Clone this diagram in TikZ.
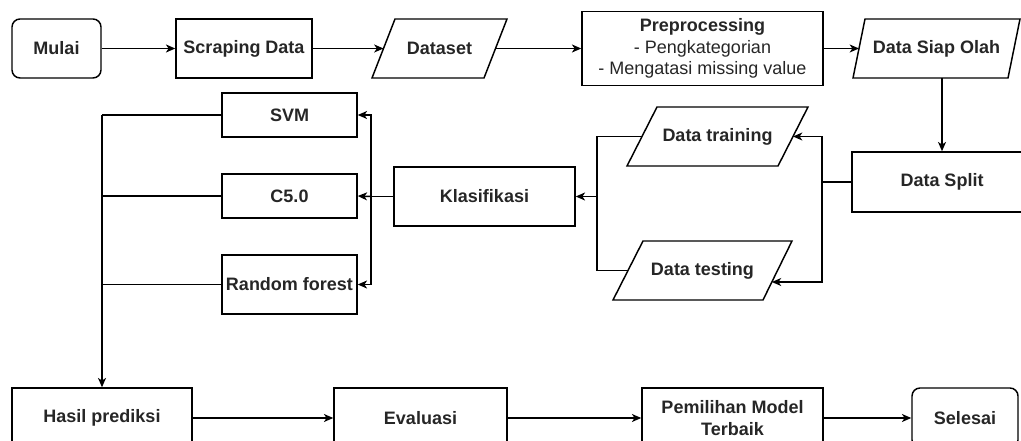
\documentclass[tikz,border=0pt]{standalone}
\usepackage{fontspec}
\setmainfont{Liberation Sans}
\usetikzlibrary{arrows.meta,calc}
\begin{document}
\begin{tikzpicture}[x=0.75pt,y=-0.75pt,
  line width=1.1pt,
  lbl/.style={font=\fontsize{13.5pt}{16.2pt}\selectfont\bfseries, text=black!85, align=center, inner sep=0pt},
  box/.style={draw, rectangle, lbl, minimum width=#1},
  rbox/.style={draw, rectangle, rounded corners=6pt, lbl, minimum width=#1},
  arr/.style={-{Stealth[length=7pt,width=6pt,inset=2pt]}},
  shape line/.style={draw, line join=miter}
]
\useasboundingbox (0,0) rectangle (1021,441);
\clip (0,0) rectangle (1021,441);

% top row
\node[rbox=66.75pt, minimum height=44.25pt] (mulai) at (56.5,48.5) {Mulai};
\node[box=102pt, minimum height=44.25pt] (scrap) at (244,48.5) {Scraping Data};
\coordinate (ds-tl) at (395,19); \coordinate (ds-tr) at (507,19);
\coordinate (ds-br) at (484,78); \coordinate (ds-bl) at (372,78);
\draw[shape line] (ds-tl) -- (ds-tr) -- (ds-br) -- (ds-bl) -- cycle;
\node[lbl] (dataset) at (439.5,48.5) {Dataset};
\coordinate (ds-l) at ($(ds-tl)!0.5!(ds-bl)$);
\coordinate (ds-r) at ($(ds-tr)!0.5!(ds-br)$);
\node[box=180.75pt, minimum height=55.5pt] (prep) at (702.5,48.5) {Preprocessing\\\mdseries - Pengkategorian\\\mdseries - Mengatasi missing value};
\coordinate (si-tl) at (865,19); \coordinate (si-tr) at (1020,19);
\coordinate (si-br) at (1008,78); \coordinate (si-bl) at (853,78);
\draw[shape line] (si-tl) -- (si-tr) -- (si-br) -- (si-bl) -- cycle;
\node[lbl] (siap) at (936.5,48.5) {Data Siap Olah};
\coordinate (si-l) at ($(si-tl)!0.5!(si-bl)$);

% middle
\node[box=135pt, minimum height=45pt] (split) at (942,182) {Data Split};
\coordinate (si-b) at (942,78);

\coordinate (tr-tl) at (657,107); \coordinate (tr-tr) at (808,107);
\coordinate (tr-br) at (778,166); \coordinate (tr-bl) at (627,166);
\draw[shape line] (tr-tl) -- (tr-tr) -- (tr-br) -- (tr-bl) -- cycle;
\node[lbl] (dtrain) at (717.5,136.5) {Data training};
\coordinate (tr-l) at ($(tr-tl)!0.5!(tr-bl)$);
\coordinate (tr-r) at ($(tr-tr)!0.5!(tr-br)$);

\coordinate (te-tl) at (643,241); \coordinate (te-tr) at (792,241);
\coordinate (te-br) at (763,300); \coordinate (te-bl) at (613,300);
\draw[shape line] (te-tl) -- (te-tr) -- (te-br) -- (te-bl) -- cycle;
\node[lbl] (dtest) at (702.5,270.5) {Data testing};
\coordinate (te-l) at ($(te-tl)!0.5!(te-bl)$);
\coordinate (te-r) at ($(te-tr)!0.695!(te-br)$);

\node[box=135.75pt, minimum height=44.25pt] (klas) at (484.5,196.5) {Klasifikasi};
\node[box=101.25pt, minimum height=33pt] (svm) at (289.5,115) {SVM};
\node[box=101.25pt, minimum height=33pt] (c50) at (289.5,196) {C5.0};
\node[box=101.25pt, minimum height=44.25pt] (rf) at (289.5,284.5) {Random forest};

% bottom row
\node[box=135pt, minimum height=45pt] (hasil) at (102,418) {Hasil prediksi};
\node[box=129.75pt, minimum height=45pt] (eval) at (420.5,418) {Evaluasi};
\node[box=135.75pt, minimum height=45pt] (pemil) at (732.5,418) {Pemilihan Model\\Terbaik};
\node[rbox=79.5pt, minimum height=45pt] (selesai) at (965,418) {Selesai};

% bus coordinates
\coordinate (busR) at (822,182);
\coordinate (busM) at (597,196.5);
\coordinate (busK) at (371,196.5);
\coordinate (busL) at (102,115);

% connectors
\draw[arr] (mulai.east) -- (scrap.west);
\draw[arr] (scrap.east) -- (ds-l);
\draw[arr] (ds-r) -- (prep.west |- ds-r);
\draw[arr] (prep.east |- si-l) -- (si-l);
\draw[arr] (si-b) -- (split.north);

\draw (split.west) -- (busR);
\draw[arr] (busR) |- (tr-r);
\draw[arr] (busR) |- (te-r);

\draw (tr-l) -| (busM);
\draw (te-l) -| (busM);
\draw[arr] (busM) -- (klas.east);

\draw (klas.west) -- (busK);
\draw[arr] (busK) |- (svm.east);
\draw[arr] (busK) -- (c50.east);
\draw[arr] (busK) |- (rf.east);

\draw (svm.west) -- (busL);
\draw (c50.west) -- (busL |- c50.west);
\draw (rf.west) -- (busL |- rf.west);
\draw[arr] (busL) -- (hasil.north);

\draw[arr] (hasil.east) -- (eval.west);
\draw[arr] (eval.east) -- (pemil.west);
\draw[arr] (pemil.east) -- (selesai.west);
\end{tikzpicture}
\end{document}
